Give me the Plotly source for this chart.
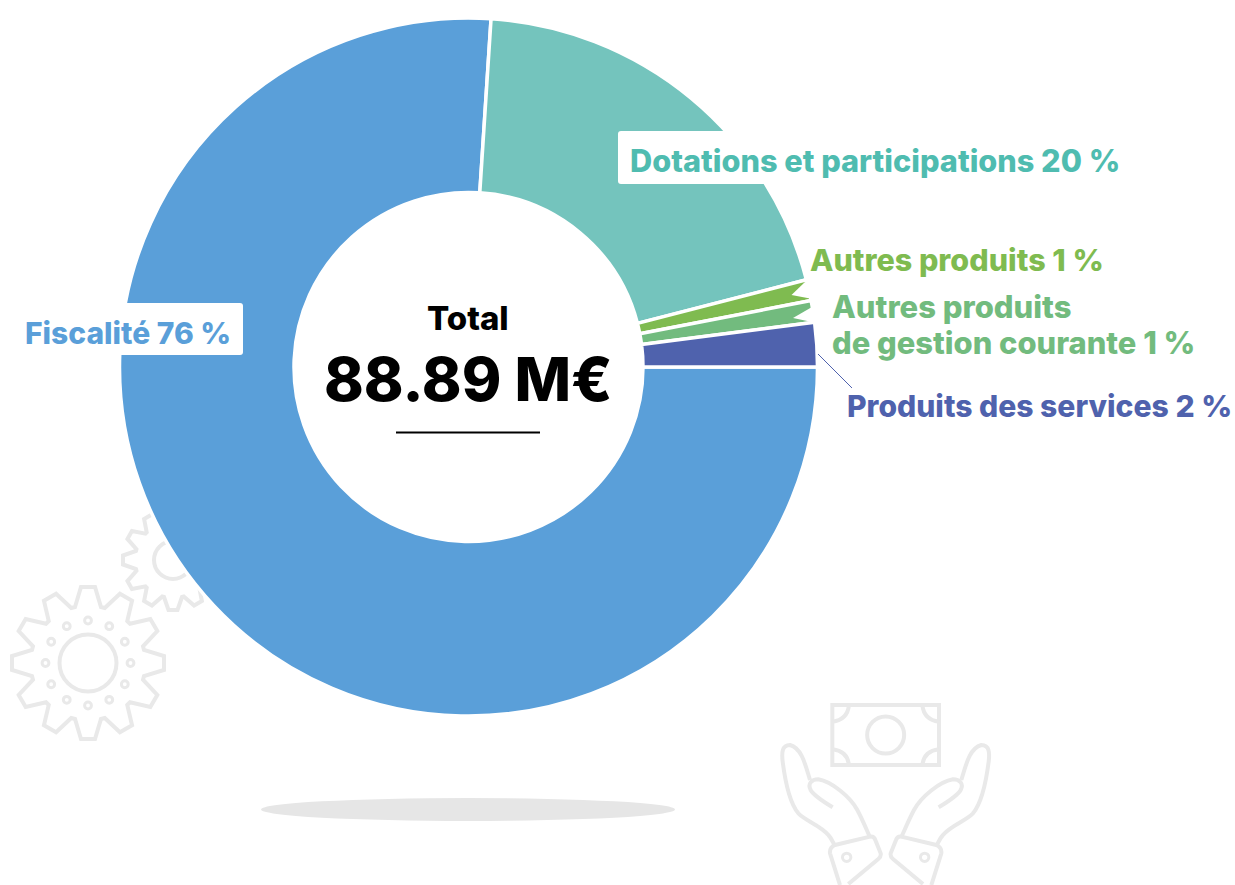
import math
import plotly.graph_objects as go

W, H = 1235, 885
categories = ["Fiscalité", "Dotations et participations", "Autres produits", "Autres produits de gestion courante", "Produits des services"]
values = [76.03, 19.95, 0.97, 1.0, 2.05]
colors = ["#5a9fd9", "#74c4bd", "#7fbb50", "#72bb7e", "#4f62ad"]
label_lines = ["Fiscalité 76 %", "Dotations et participations 20 %", "Autres produits 1 %",
               "Autres produits", "de gestion courante 1 %", "Produits des services 2 %"]
label_colors = ["#5a9fd9", "#4fbcb0", "#7fbb50", "#72bb7e", "#72bb7e", "#4f62ad"]
label_pos = [(23, 333), (628, 161), (808, 260), (830, 306), (830, 342), (845, 406)]
label_sizes = [30, 30.7, 30.5, 31, 30.9, 30.1]

FONT = "Inter"
GREY = "#e9e9e9"

def px(x): return x / W
def py(y): return 1 - y / H

def pth(cmds, ox=0, oy=0, s=1.0, mirror=None):
    out = []
    for c in cmds:
        if isinstance(c, str):
            out.append(c)
        else:
            x, y = c
            if mirror is not None:
                x = mirror - x
            out.append(f"{px(x*s+ox):.5f},{py(y*s+oy):.5f}")
    return " ".join(out)

shapes = []

def stroke(path, layer="below", w=4, color=GREY, fill=None):
    shapes.append(dict(type="path", path=path, xref="paper", yref="paper", layer=layer,
                       line=dict(color=color, width=w), fillcolor=fill or "rgba(0,0,0,0)"))

def circle(cx, cy, r, layer="below", w=4, color=GREY, fill=None):
    shapes.append(dict(type="circle", xref="paper", yref="paper", x0=px(cx-r), x1=px(cx+r), y0=py(cy+r), y1=py(cy-r),
                       layer=layer, line=dict(color=color, width=w), fillcolor=fill or "rgba(0,0,0,0)"))

def gear(cx, cy, R, root, hw_top, hw_base, n=12):
    cmds = []
    for i in range(n):
        a = 2 * math.pi * i / n - math.pi / 2
        ux, uy = math.cos(a), math.sin(a)
        vx, vy = -uy, ux
        pts = [(root, -hw_base), (R, -hw_top), (R, hw_top), (root, hw_base)]
        for j, (r, t) in enumerate(pts):
            cmds += ["M" if (i == 0 and j == 0) else "L", (cx + ux*r + vx*t, cy + uy*r + vy*t)]
    cmds.append("Z")
    stroke(pth(cmds))

# decorations: gears
gear(88, 663, 76, 56, 7, 13)
circle(88, 663, 28.5)
for i in range(12):
    a = 2 * math.pi * i / 12
    circle(88 + 42.5*math.cos(a), 663 + 42.5*math.sin(a), 3.4, w=3)
gear(173, 560, 50, 37, 4.5, 9)
circle(173, 560, 19)

# decorations: banknote and hands (drawn in zoom-crop coordinates)
OX, OY, S = 770, 690, 1/3
def hand(mirror=None):
    finger = ["M", (120,270), "C", (105,220), (95,175), (60,165), "C", (35,165), (35,190), (38,215),
              "C", (45,270), (60,340), (85,370), "C", (110,395), (150,405), (175,435), "C", (185,445), (190,460), (195,468)]
    palm = ["M", (188,352), "C", (160,335), (130,315), (122,300), "C", (112,280), (125,268), (145,268),
            "C", (185,275), (240,320), (262,360), "C", (278,390), (290,420), (298,437)]
    cuff = ["M", (210,585), "L", (180,490), "Q", (178,472), (195,465), "L", (300,440), "Q", (312,438), (316,450),
            "L", (332,490), "Q", (334,500), (325,507), "L", (235,582)]
    for c in (finger, palm, cuff):
        stroke(pth(c, OX, OY, S, mirror))
    bx = 230 if mirror is None else mirror - 230
    circle(OX + bx*S, OY + 502*S, 4.2, w=3)

hand()
hand(694)
stroke(pth(["M",(187,45),"L",(507,45),"L",(507,225),"L",(187,225),"Z"], OX, OY, S))
circle(OX+347*S, OY+135*S, 18.5)
for c in (["M",(187,95),"Q",(232,90),(237,45)], ["M",(457,45),"Q",(462,90),(507,95)],
          ["M",(187,178),"Q",(232,183),(237,225)], ["M",(457,225),"Q",(462,183),(507,178)]):
    stroke(pth(c, OX, OY, S))

# shadow under the donut
shapes.append(dict(type="circle", xref="paper", yref="paper", x0=px(261), x1=px(675), y0=py(821), y1=py(798),
                   layer="below", line=dict(width=0), fillcolor="#e6e6e6"))

# white label boxes cut out of the donut (slightly rounded corners)
for x0, y0, x1, y1 in [(618, 131, 1130, 184), (14, 303, 243, 355)]:
    r = 3
    box = ["M",(x0+r,y0),"L",(x1-r,y0),"Q",(x1,y0),(x1,y0+r),"L",(x1,y1-r),"Q",(x1,y1),(x1-r,y1),
           "L",(x0+r,y1),"Q",(x0,y1),(x0,y1-r),"L",(x0,y0+r),"Q",(x0,y0),(x0+r,y0),"Z"]
    shapes.append(dict(type="path", path=pth(box), xref="paper", yref="paper",
                       layer="above", line=dict(width=0), fillcolor="white"))

# notches on the small slices
for c in (["M",(805,282),"L",(791.5,295),"L",(810,298.5),"L",(830,290),"Z"],
          ["M",(812,307),"L",(793,318),"L",(812,322),"L",(830,315),"Z"]):
    shapes.append(dict(type="path", path=pth(c), xref="paper", yref="paper", layer="above",
                       line=dict(width=0), fillcolor="white"))

# leader + underline
shapes.append(dict(type="line", xref="paper", yref="paper", x0=px(818), y0=py(354), x1=px(852), y1=py(388),
                   layer="above", line=dict(color="#4f62ad", width=1)))
shapes.append(dict(type="line", xref="paper", yref="paper", x0=px(396), y0=py(432.5), x1=px(540), y1=py(432.5),
                   layer="above", line=dict(color="#000000", width=2)))

fig = go.Figure(go.Pie(
    labels=categories, values=values, sort=False, direction="clockwise", rotation=90,
    hole=174.5/349, textinfo="none", hoverinfo="label+percent", showlegend=False,
    marker=dict(colors=colors, line=dict(color="white", width=3.5)),
    domain=dict(x=[px(119.5), px(817.5)], y=[py(716), py(18)]),
))

ann = []
for txt, col, (x, y), size in zip(label_lines, label_colors, label_pos, label_sizes):
    ann.append(dict(text=txt, x=px(x), y=py(y), xref="paper", yref="paper", xanchor="left", yanchor="middle",
                    align="left", showarrow=False, font=dict(family=FONT, size=size, color=col, weight=800)))
ann.append(dict(text="Total", x=px(468), y=py(318), xref="paper", yref="paper", showarrow=False,
                font=dict(family=FONT, size=33, color="#000", weight=800)))
ann.append(dict(text="88.89 M€", x=px(468), y=py(379), xref="paper", yref="paper", showarrow=False,
                font=dict(family=FONT, size=60, color="#000", weight=800)))

fig.update_layout(width=W, height=H, margin=dict(l=0, r=0, t=0, b=0), paper_bgcolor="white",
                  shapes=shapes, annotations=ann, autosize=False)
fig.write_html("out.html", config=dict(displayModeBar=False),
               post_script="document.body.style.margin='0';document.body.style.overflow='hidden';")
